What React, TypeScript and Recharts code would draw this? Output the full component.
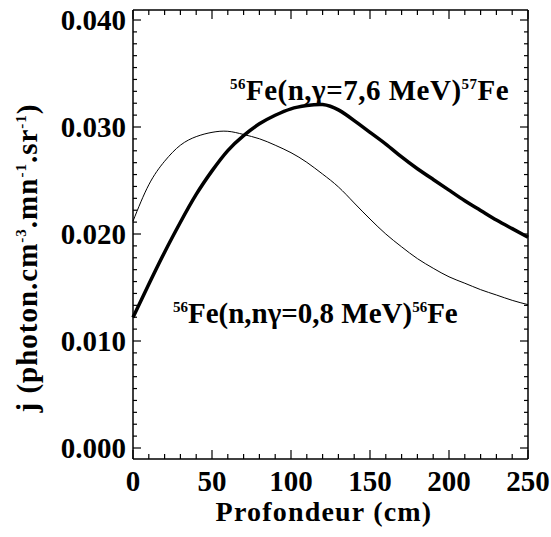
import { LineChart, Line, XAxis, YAxis } from "recharts";

// depth (cm)
const depth = [
  0, 10, 20, 30, 40, 50, 60, 70, 80, 90, 100, 110, 120, 130, 140, 150, 160,
  170, 180, 190, 200, 210, 220, 230, 240, 250,
];

// 56Fe(n,gamma=7.6 MeV)57Fe  (thick)
const captureLine = [
  0.0122, 0.0153, 0.0183, 0.0211, 0.0237, 0.0259, 0.0278, 0.0292, 0.0303,
  0.0311, 0.0317, 0.032, 0.0321, 0.0316, 0.0306, 0.0295, 0.0284, 0.0272,
  0.0261, 0.0251, 0.0241, 0.0231, 0.0222, 0.0213, 0.0205, 0.0197,
];

// 56Fe(n,n gamma=0.8 MeV)56Fe  (thin)
const inelasticLine = [
  0.0212, 0.0246, 0.0268, 0.0283, 0.0291, 0.0295, 0.0296, 0.0293, 0.0289,
  0.0283, 0.0276, 0.0267, 0.0256, 0.0244, 0.0229, 0.0214, 0.02, 0.0188,
  0.0177, 0.0168, 0.016, 0.0154, 0.0148, 0.0143, 0.0138, 0.0134,
];

const xMajorTicks = [0, 50, 100, 150, 200, 250];
const yTickLabels = ["0.000", "0.010", "0.020", "0.030", "0.040"];

const data = depth.map((d, i) => ({
  depth: d,
  capture: captureLine[i],
  inelastic: inelasticLine[i],
}));

// minor ticks: 5 per x interval, 9 per y interval (as on the original axes)
const xTicks = Array.from({ length: 26 }, (_, i) => i * 10);
const yTicks = Array.from({ length: 37 }, (_, i) => (i * 0.01) / 9);
const xDomain = [0, 250];
const yDomain = [-0.001028, 0.040935];

const W = 551;
const H = 537;
const plot = { left: 133, right: 528, top: 10, bottom: 459 };
const px = (v: number) =>
  plot.left + ((v - xDomain[0]) / (xDomain[1] - xDomain[0])) * (plot.right - plot.left);
const py = (v: number) =>
  plot.bottom - ((v - yDomain[0]) / (yDomain[1] - yDomain[0])) * (plot.bottom - plot.top);

const FONT = "'Liberation Serif', 'Times New Roman', serif";

const isXMajor = (v: number) => xMajorTicks.includes(Math.round(v));
const yIndex = (v: number) => Math.round(v * 900);
const isYMajor = (v: number) => yIndex(v) % 9 === 0;

const BottomTick = ({ x, y, payload }: any) => (
  <g>
    <line
      x1={x}
      x2={x}
      y1={y}
      y2={y - (isXMajor(payload.value) ? 9 : 5)}
      stroke="#000"
      strokeWidth={1.2}
    />
    {isXMajor(payload.value) && (
      <text
        x={x}
        y={y + 32}
        textAnchor="middle"
        fontFamily={FONT}
        fontWeight="bold"
        fontSize={29}
        fill="#000"
      >
        {Math.round(payload.value)}
      </text>
    )}
  </g>
);

const LeftTick = ({ x, y, payload }: any) => {
  const idx = yIndex(payload.value);
  const major = idx % 9 === 0;
  return (
    <g>
      <line
        x1={x}
        x2={x + (major ? 8 : 4)}
        y1={y}
        y2={y}
        stroke="#000"
        strokeWidth={1.2}
      />
      {major && (
        <text
          x={x - 7}
          y={y + 10}
          textAnchor="end"
          fontFamily={FONT}
          fontWeight="bold"
          fontSize={29}
          fill="#000"
        >
          {yTickLabels[idx / 9]}
        </text>
      )}
    </g>
  );
};

const bold = { fontFamily: FONT, fontWeight: "bold", fontSize: 29, fill: "#000" };

export default function App() {
  return (
    <div style={{ position: "absolute", left: 0, top: 0, width: W, height: H }}>
      <LineChart
        width={W}
        height={H}
        data={data}
        margin={{ top: 10, right: 23, bottom: 0, left: 0 }}
      >
        <XAxis
          dataKey="depth"
          type="number"
          domain={xDomain}
          ticks={xTicks}
          interval={0}
          height={78}
          tickSize={0}
          tickMargin={0}
          tickLine={false}
          tick={<BottomTick />}
          axisLine={{ stroke: "#000", strokeWidth: 1.5 }}
        />
        <YAxis
          type="number"
          domain={yDomain}
          ticks={yTicks}
          interval={0}
          width={133}
          tickSize={0}
          tickMargin={0}
          tickLine={false}
          tick={<LeftTick />}
          axisLine={{ stroke: "#000", strokeWidth: 1.5 }}
        />
        {/* top and right edges of the box with their inward ticks */}
        <line x1={plot.left} x2={plot.right} y1={plot.top} y2={plot.top} stroke="#000" strokeWidth={1.5} />
        <line x1={plot.right} x2={plot.right} y1={plot.top} y2={plot.bottom} stroke="#000" strokeWidth={1.5} />
        {xTicks.map((t) => (
          <line
            key={`xt${t}`}
            x1={px(t)}
            x2={px(t)}
            y1={plot.top}
            y2={plot.top + (isXMajor(t) ? 9 : 5)}
            stroke="#000"
            strokeWidth={1.2}
          />
        ))}
        {yTicks.map((t, i) => (
          <line
            key={`yr${i}`}
            x1={plot.right}
            x2={plot.right - (isYMajor(t) ? 8 : 4)}
            y1={py(t)}
            y2={py(t)}
            stroke="#000"
            strokeWidth={1.2}
          />
        ))}
        <Line
          dataKey="inelastic"
          type="natural"
          stroke="#000"
          strokeWidth={1}
          dot={false}
          isAnimationActive={false}
        />
        <Line
          dataKey="capture"
          type="natural"
          stroke="#000"
          strokeWidth={3.5}
          dot={false}
          isAnimationActive={false}
        />
      </LineChart>
      {/* titles and curve annotations */}
      <svg
        width={W}
        height={H}
        style={{ position: "absolute", left: 0, top: 0, pointerEvents: "none" }}
      >
        <text x={px(61.4)} y={py(0.0325)} {...bold} letterSpacing={0.5}>
          <tspan fontSize={15} dy={-11}>56</tspan>
          <tspan dy={11}>Fe(n,γ=7,6 MeV)</tspan>
          <tspan fontSize={15} dy={-11}>57</tspan>
          <tspan dy={11}>Fe</tspan>
        </text>
        <text x={px(25.3)} y={py(0.01168)} {...bold}>
          <tspan fontSize={15} dy={-11}>56</tspan>
          <tspan dy={11}>Fe(n,nγ=0,8 MeV)</tspan>
          <tspan fontSize={15} dy={-11}>56</tspan>
          <tspan dy={11}>Fe</tspan>
        </text>
        <text x={324} y={521} textAnchor="middle" {...bold} fontSize={28} letterSpacing={1.2}>
          Profondeur (cm)
        </text>
        <text
          x={37}
          y={258}
          transform="rotate(-90 37 258)"
          textAnchor="middle"
          {...bold}
          letterSpacing={1}
        >
          <tspan>j (photon.cm</tspan>
          <tspan fontSize={15} dy={-11}>-3</tspan>
          <tspan dy={11}>.mn</tspan>
          <tspan fontSize={15} dy={-11}>-1</tspan>
          <tspan dy={11}>.sr</tspan>
          <tspan fontSize={15} dy={-11}>-1</tspan>
          <tspan dy={11}>)</tspan>
        </text>
      </svg>
    </div>
  );
}
